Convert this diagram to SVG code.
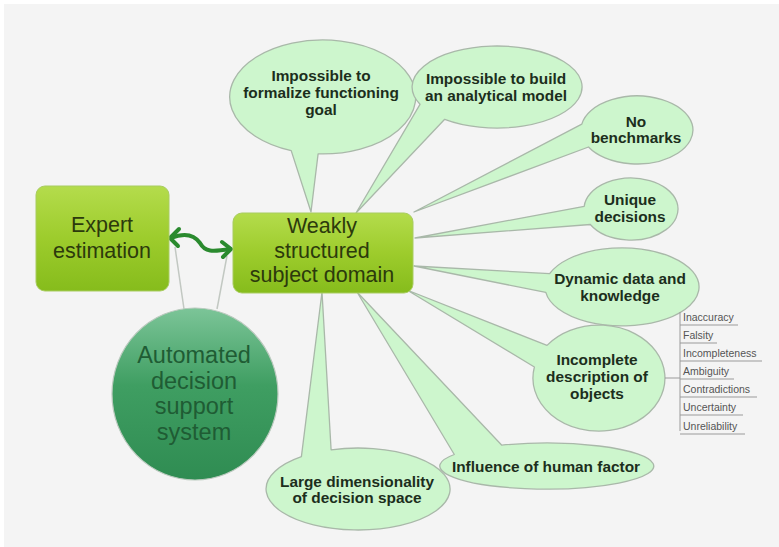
<svg xmlns="http://www.w3.org/2000/svg" width="779" height="547" viewBox="0 0 779 547">
<defs>
<linearGradient id="boxG" x1="0" y1="0" x2="0" y2="1">
<stop offset="0" stop-color="#b4dc4c"/>
<stop offset="0.5" stop-color="#9dcc2c"/>
<stop offset="1" stop-color="#86bc1c"/>
</linearGradient>
<linearGradient id="circG" x1="0" y1="0" x2="0" y2="1">
<stop offset="0" stop-color="#7cc598"/>
<stop offset="0.45" stop-color="#3f9e62"/>
<stop offset="1" stop-color="#2f8c52"/>
</linearGradient>
<style>
.call{fill:#cdf6cd;stroke:#a9b8a9;stroke-width:1.3;stroke-linejoin:round}
.ct{font-family:"Liberation Sans",Arial,sans-serif;font-weight:bold;font-size:15.4px;fill:#1c2e1c;text-anchor:middle}
.box{fill:url(#boxG);stroke:#a8cc60;stroke-width:1}
.bt{font-family:"Liberation Sans",Arial,sans-serif;font-size:21.5px;fill:#2c3a0c;text-anchor:middle}
.st{font-family:"Liberation Sans",Arial,sans-serif;font-size:23.5px;fill:#1f5c34;text-anchor:middle}
.li{font-family:"Liberation Sans",Arial,sans-serif;font-size:10.5px;fill:#555;}
.ln{stroke:#c2c8c2;stroke-width:1.5;fill:none}
.ul{stroke:#9a9a9a;stroke-width:1;fill:none}
.arr{stroke:#2a8a2e;stroke-width:4;fill:none;stroke-linecap:round;stroke-linejoin:round}
</style>
</defs>
<rect x="0" y="0" width="779" height="547" fill="#ffffff"/>
<rect x="4" y="4" width="775" height="543" fill="#f4f4f4"/>

<g id="c-formalize">
<path class="call" d="M 291.2,150.6 A 93 57 0 1 1 318.1,153.9 L 311,212 Z"/>
<text class="ct" x="321" y="81">Impossible to</text>
<text class="ct" x="321" y="98">formalize functioning</text>
<text class="ct" x="321" y="115">goal</text>
</g>
<g id="c-analytical">
<path class="call" d="M 420,104.3 A 85 41 0 1 1 444.7,119.3 L 356,213 Z"/>
<text class="ct" x="496" y="84">Impossible to build</text>
<text class="ct" x="496" y="101">an analytical model</text>
</g>
<g id="c-benchmarks">
<path class="call" d="M 581.8,124.1 A 56 34 0 1 1 588.5,147 L 414,212 Z"/>
<text class="ct" x="636" y="127">No</text>
<text class="ct" x="636" y="143">benchmarks</text>
</g>
<g id="c-unique">
<path class="call" d="M 584.2,206.3 A 47 31 0 1 1 590.3,224.5 L 415,238 Z"/>
<text class="ct" x="630" y="205">Unique</text>
<text class="ct" x="630" y="222">decisions</text>
</g>
<g id="c-dynamic">
<path class="call" d="M 549.6,273.7 A 77 39 0 1 1 545.8,292.4 L 414,266 Z"/>
<text class="ct" x="620" y="284">Dynamic data and</text>
<text class="ct" x="620" y="301">knowledge</text>
</g>
<g id="c-incomplete">
<path class="call" d="M 547,345.4 A 66 53 0 1 1 534.4,367 L 407,290 Z"/>
<text class="ct" x="597" y="365">Incomplete</text>
<text class="ct" x="597" y="382">description of</text>
<text class="ct" x="597" y="399">objects</text>
</g>
<g id="c-human">
<path class="call" d="M 501.8,445.2 A 107 23 0 1 1 454.3,454.5 L 357,292 Z"/>
<text class="ct" x="546" y="472">Influence of human factor</text>
</g>
<g id="c-large">
<path class="call" d="M 331.1,449.8 A 92 41 0 1 1 301.4,456.7 L 322,292 Z"/>
<text class="ct" x="357" y="487">Large dimensionality</text>
<text class="ct" x="357" y="503">of decision space</text>
</g>

<g id="connectors">
<line class="ln" x1="175" y1="247" x2="184" y2="309"/>
<line class="ln" x1="227" y1="256" x2="217" y2="309"/>
<path class="arr" d="M 171,238 C 186,232 195,236 200,243 C 205,252 212,252 230,249"/>
<polyline class="arr" points="179,229 170,238 178,246"/>
<polyline class="arr" points="222,242 231,249 223,257"/>
<line class="ul" x1="665" y1="378" x2="680" y2="378"/>
<line class="ul" x1="680" y1="312" x2="680" y2="431"/>
</g>

<g id="n-expert">
<rect class="box" x="36" y="186" width="133" height="105" rx="9"/>
<text class="bt" x="102" y="232">Expert</text>
<text class="bt" x="102" y="258">estimation</text>
</g>
<g id="n-weakly">
<rect class="box" x="233" y="213" width="180" height="80" rx="9"/>
<text class="bt" x="322" y="233">Weakly</text>
<text class="bt" x="322" y="258">structured</text>
<text class="bt" x="322" y="282">subject domain</text>
</g>
<g id="n-adss">
<ellipse cx="195" cy="394" rx="83" ry="86" fill="url(#circG)" stroke="#b9c9bd" stroke-width="1.2"/>
<text class="st" x="194" y="363">Automated</text>
<text class="st" x="194" y="389">decision</text>
<text class="st" x="194" y="414">support</text>
<text class="st" x="194" y="440">system</text>
</g>

<g id="n-list">
<text class="li" x="683" y="321">Inaccuracy</text>
<line class="ul" x1="680" y1="325" x2="738" y2="325"/>
<text class="li" x="683" y="339">Falsity</text>
<line class="ul" x1="680" y1="343" x2="717" y2="343"/>
<text class="li" x="683" y="357">Incompleteness</text>
<line class="ul" x1="680" y1="361" x2="762" y2="361"/>
<text class="li" x="683" y="375">Ambiguity</text>
<line class="ul" x1="680" y1="379" x2="734" y2="379"/>
<text class="li" x="683" y="393">Contradictions</text>
<line class="ul" x1="680" y1="397" x2="757" y2="397"/>
<text class="li" x="683" y="411">Uncertainty</text>
<line class="ul" x1="680" y1="415" x2="743" y2="415"/>
<text class="li" x="683" y="430">Unreliability</text>
<line class="ul" x1="680" y1="434" x2="745" y2="434"/>
</g>
</svg>
